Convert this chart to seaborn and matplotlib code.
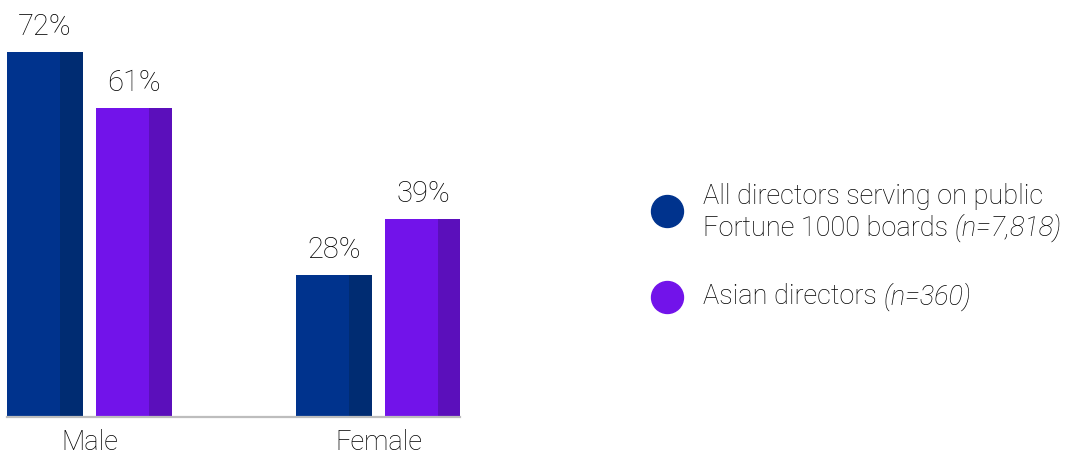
import matplotlib
matplotlib.use("Agg")
import matplotlib.pyplot as plt
from matplotlib.patches import Rectangle
from matplotlib.lines import Line2D
import seaborn as sns
import pandas as pd

categories = ["Male", "Female"]
series_names = ["All directors", "Asian directors"]
all_directors = [72, 28]
asian_directors = [61, 39]
value_labels_all = ["72%", "28%"]
value_labels_asian = ["61%", "39%"]

colors = ["#00338D", "#7213EA"]
dark_colors = ["#002C72", "#5B0FBB"]

df = pd.DataFrame({
    "Gender": categories * 2,
    "Series": [series_names[0]] * 2 + [series_names[1]] * 2,
    "Value": all_directors + asian_directors,
})

sns.set_theme(style="white")
plt.rcParams["font.family"] = ["Roboto", "DejaVu Sans"]
W = "light"

fig = plt.figure(figsize=(10.65, 4.58), dpi=100)
ax = fig.add_axes([7 / 1065, 41 / 458, (460 - 7) / 1065, 417 / 458])

sns.barplot(data=df, x="Gender", y="Value", hue="Series", palette=colors,
            width=0.616, gap=0.146, saturation=1, ax=ax, legend=False,
            order=categories, hue_order=series_names, linewidth=0, edgecolor="none")

# darker right-hand shading on each bar
bars = [p for p in ax.patches if isinstance(p, Rectangle) and p.get_height() > 0]
for p in bars:
    fc = p.get_facecolor()
    idx = 0 if fc[0] < 0.2 else 1
    w = p.get_width()
    ax.add_patch(Rectangle((p.get_x() + 0.7 * w, p.get_y()), 0.3 * w, p.get_height(),
                           facecolor=dark_colors[idx], edgecolor="none", linewidth=0,
                           zorder=p.get_zorder() + 0.1))

txtc = "#000000"
for cont, labs in zip(ax.containers, [value_labels_all, value_labels_asian]):
    ax.bar_label(cont, labels=labs, padding=8, fontsize=21, fontweight=W, color=txtc)

ax.set_xlim(-0.2855, 1.282)
ax.set_ylim(0, 82.3)
ax.set_xlabel("")
ax.set_ylabel("")
ax.set_yticks([])
ax.tick_params(axis="x", length=0, pad=9, labelsize=19.5, labelcolor=txtc)
for lab in ax.get_xticklabels():
    lab.set_fontweight(W)
for s in ["left", "right", "top"]:
    ax.spines[s].set_visible(False)
ax.spines["bottom"].set_color("#BDBDBD")
ax.spines["bottom"].set_linewidth(1.6)
ax.patch.set_alpha(0)

# legend
fig.add_artist(Line2D([667 / 1065], [1 - 211 / 458], marker="o", markersize=23,
                      color=colors[0], linestyle="none", transform=fig.transFigure))
fig.add_artist(Line2D([667 / 1065], [1 - 297 / 458], marker="o", markersize=23,
                      color=colors[1], linestyle="none", transform=fig.transFigure))
tx = 703 / 1065
fs = 19.5
fig.text(tx, 1 - 197 / 458, "All directors serving on public", fontsize=fs, fontweight=W,
         color=txtc, va="center", ha="left")
t2 = fig.text(tx, 1 - 228 / 458, "Fortune 1000 boards ", fontsize=fs, fontweight=W,
              color=txtc, va="center", ha="left")
fig.canvas.draw()
bb = t2.get_window_extent()
fig.text(bb.x1 / fig.bbox.width, 1 - 228 / 458, "(n=7,818)", fontsize=fs, fontweight=W,
         style="italic", color=txtc, va="center", ha="left")
t3 = fig.text(tx, 1 - 297 / 458, "Asian directors ", fontsize=fs, fontweight=W,
              color=txtc, va="center", ha="left")
fig.canvas.draw()
bb3 = t3.get_window_extent()
fig.text(bb3.x1 / fig.bbox.width, 1 - 297 / 458, "(n=360)", fontsize=fs, fontweight=W,
         style="italic", color=txtc, va="center", ha="left")

fig.savefig("out.png", dpi=100)
